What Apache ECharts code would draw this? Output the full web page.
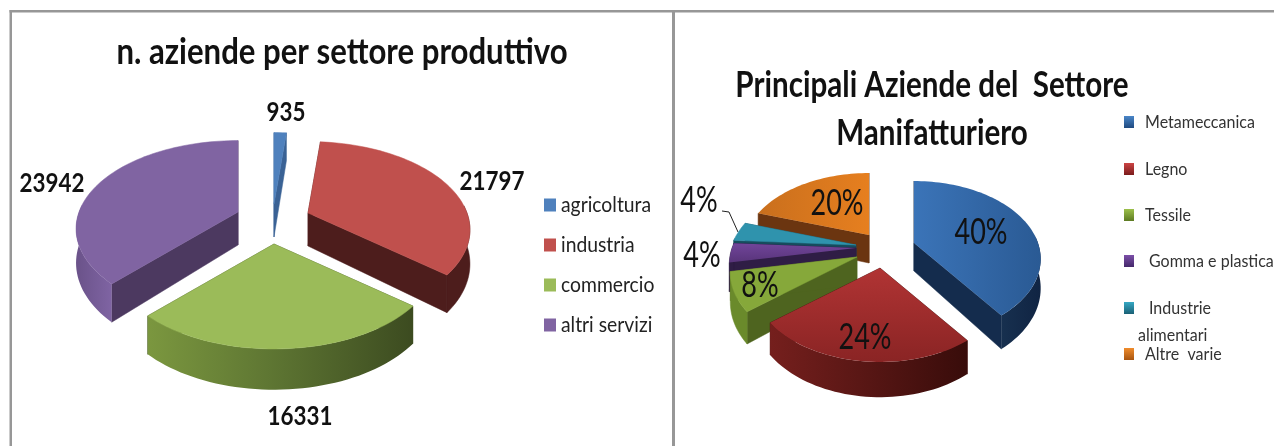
<!DOCTYPE html>
<html><head><meta charset="utf-8">
<style>html,body{margin:0;padding:0;background:#fff}#c{width:1274px;height:446px}</style>
<script src="https://cdn.jsdelivr.net/npm/echarts@6/dist/echarts.min.js"></script>
</head><body><div id="c"></div>
<script>
// ---- data ----
const sectorNames = ['agricoltura','industria','commercio','altri servizi'];
const sectorValues = [935,21797,16331,23942];
const manufNames = ['Metameccanica','Legno','Tessile','Gomma e plastica','Industrie alimentari','Altre varie'];
const manufValues = [40,24,8,4,4,20];

// ---- layout / style ----
const FONT = 'Lato,sans-serif';
const chart = echarts.init(document.getElementById('c'));
const V = (a,b)=>new echarts.graphic.LinearGradient(0,0,0,1,[{offset:0,color:a},{offset:1,color:b}]);
const H = (a,b,m)=>new echarts.graphic.LinearGradient(0,0,1,0,m?[{offset:0,color:a},{offset:.45,color:m},{offset:1,color:b}]:[{offset:0,color:a},{offset:1,color:b}]);

const leftPie = {
  values: sectorValues, names: sectorNames, cx:274, cy:222, R:159, Rt:85, k:.19, D:33,
  order:[0,3,1,2],
  shifts:[[0,-18],[34,-9],[0,22],[-36,-10]],
  tops:['#4f81bd','#c0504d','#9bbb59','#8064a2'],
  cuts:['#3a6295','#4d1d1c','#3f4f22','#4c3960'],
  walls:['#385d8a','#4d1d1c',H('#7b973f','#3c4b20','#5f7733'),H('#6a5289','#7f64a3')],
  swatches:['#4f81bd','#c0504d','#9bbb59','#8064a2'],
  labels:[[286,112],[492,181],[300,416],[52,183]],
  labelFont:'bold 27px '+FONT, labelScale:.83, labelColor:'#111', fmt:v=>String(v),
  legend:[[544,205,561,205],[544,245,561,245],[544,285,561,285],[544,325,561,325]],
  legendText:['agricoltura','industria','commercio','altri servizi'],
  legendFont:'21px '+FONT, legendScale:.92, legendColor:'#222', sw:12, sh:13
};
const rightPie = {
  values: manufValues, names: manufNames, cx:857, cy:250, R:124, Rt:74.7, k:.205, D:28,
  order:[5,4,3,2,0,1],
  shifts:[[57,-7],[23,18],[0,7],[-1,-2],[-1,-5],[12,-15]],
  tops:[H('#3b74b8','#2a5a94'),V('#b13434','#8a2424'),'#86a83a',V('#71459a','#58347a'),'#2f93ad',H('#c96f1d','#e67f1f')],
  cuts:['#142c4d','#4a1413','#4e641f','#2f1d45','#164c5d','#6b3510'],
  walls:[H('#17304f','#102443'),H('#751f1d','#380c0a','#5a1715'),'#6a8a2b','#2f1d45','#164c5d','#6b3510'],
  swatches:[V('#4a86c8','#1f4a80'),V('#c44','#7a1c1c'),V('#9cc04a','#5d7a22'),V('#7c4fa8','#44286a'),V('#36a8c4','#1a6075'),V('#f08c2c','#a85510')],
  labels:[[981,232],[865,337],[760,285],[702,255],[699,200],[837,203]],
  labelFont:'37px '+FONT, labelScale:.73, labelColor:'#111', fmt:v=>v+'%',
  legend:[[1124,122,1145,122],[1124,169,1145,169],[1124,215,1145,215],[1124,261,1149,261],[1124,308,1149,308],[1124,354,1145,354]],
  legendText:['Metameccanica','Legno','Tessile','Gomma e plastica','Industrie','Altre  varie'],
  legendFont:'18px '+FONT, legendScale:.89, legendColor:'#333', sw:10, sh:12
};

function pieSeries(p){
  const total = p.values.reduce((a,b)=>a+b,0);
  const starts = []; let acc = 0;
  p.values.forEach(v=>{starts.push(acc/total*360); acc+=v;});
  const rad = d=>d*Math.PI/180;
  const proj = (deg)=>{
    const X=Math.sin(rad(deg)), Y=-Math.cos(rad(deg)), f=1/(1-p.k*Y);
    return {x:p.R*X*f, y:p.Rt*Y*f, d:p.D*f};
  };
  const poly = (pts,fill)=>({type:'polygon',shape:{points:pts},style:{fill:fill,stroke:typeof fill==='string'?fill:null,lineWidth:typeof fill==='string'?.5:0}});
  return {
    type:'custom', coordinateSystem:'none', silent:true, clip:false,
    data:p.order.map(i=>({name:p.names[i],value:[p.values[i],i]})),
    renderItem(params,api){
      const i=api.value(1), v=api.value(0);
      const a0=starts[i], a1=a0+v/total*360;
      const ax=p.cx+p.shifts[i][0], ay=p.cy+p.shifts[i][1];
      const arc=(from,to,dn)=>{
        const n=Math.max(2,Math.ceil((to-from)/2)), out=[];
        for(let s=0;s<=n;s++){const q=proj(from+(to-from)*s/n); out.push([ax+q.x,ay+q.y+(dn?q.d:0)]);}
        return out;
      };
      const apexD=p.D;
      const children=[];
      [a0,a1].forEach(a=>{
        const q=proj(a);
        children.push(poly([[ax,ay],[ax+q.x,ay+q.y],[ax+q.x,ay+q.y+q.d],[ax,ay+apexD]],p.cuts[i]));
      });
      const w0=Math.max(a0,85), w1=Math.min(a1,275);
      if(w1>w0) children.push(poly(arc(w0,w1,false).concat(arc(w0,w1,true).reverse()),p.walls[i]));
      children.push(poly([[ax,ay]].concat(arc(a0,a1,false)),p.tops[i]));
      // value label
      children.push({type:'text',z2:100,x:p.labels[i][0],y:p.labels[i][1],scaleX:p.labelScale,
        style:{text:p.fmt(v),font:p.labelFont,fill:p.labelColor,align:'center',verticalAlign:'middle'}});
      // legend entry
      const L=p.legend[i];
      children.push({type:'rect',z2:100,shape:{x:L[0],y:L[1]-p.sh/2,width:p.sw,height:p.sh},style:{fill:p.swatches[i]}});
      children.push({type:'text',z2:100,x:L[2],y:L[3],scaleX:p.legendScale,
        style:{text:p.legendText[i],font:p.legendFont,fill:p.legendColor,align:'left',verticalAlign:'middle'}});
      return {type:'group',children};
    }
  };
}

const frame = '#979797';
const titleEl=(t,x,y,size,sc)=>({type:'text',x,y,scaleX:sc,z:10,style:{text:t,font:'bold '+size+'px '+FONT,fill:'#111',align:'center',verticalAlign:'middle'}});
chart.setOption({
  animation:false, backgroundColor:'#fff',
  graphic:[
    {type:'rect',shape:{x:9.5,y:10,width:1265,height:2.5},style:{fill:frame}},
    {type:'rect',shape:{x:9.5,y:10,width:2.5,height:436},style:{fill:frame}},
    {type:'rect',shape:{x:672,y:10,width:3,height:436},style:{fill:frame}},
    titleEl('n. aziende per settore produttivo',342,52,36,.865),
    titleEl('Principali Aziende del  Settore',932,85,37,.80),
    titleEl('Manifatturiero',932,133,37,.80),
    {type:'polyline',shape:{points:[[722,211],[729,212],[738,232]]},style:{stroke:'#222',lineWidth:1,fill:null}},
    {type:'text',x:1138,y:335,scaleX:rightPie.legendScale,style:{text:'alimentari',font:rightPie.legendFont,fill:rightPie.legendColor,verticalAlign:'middle'}}
  ],
  series:[pieSeries(leftPie),pieSeries(rightPie)]
});
</script></body></html>
